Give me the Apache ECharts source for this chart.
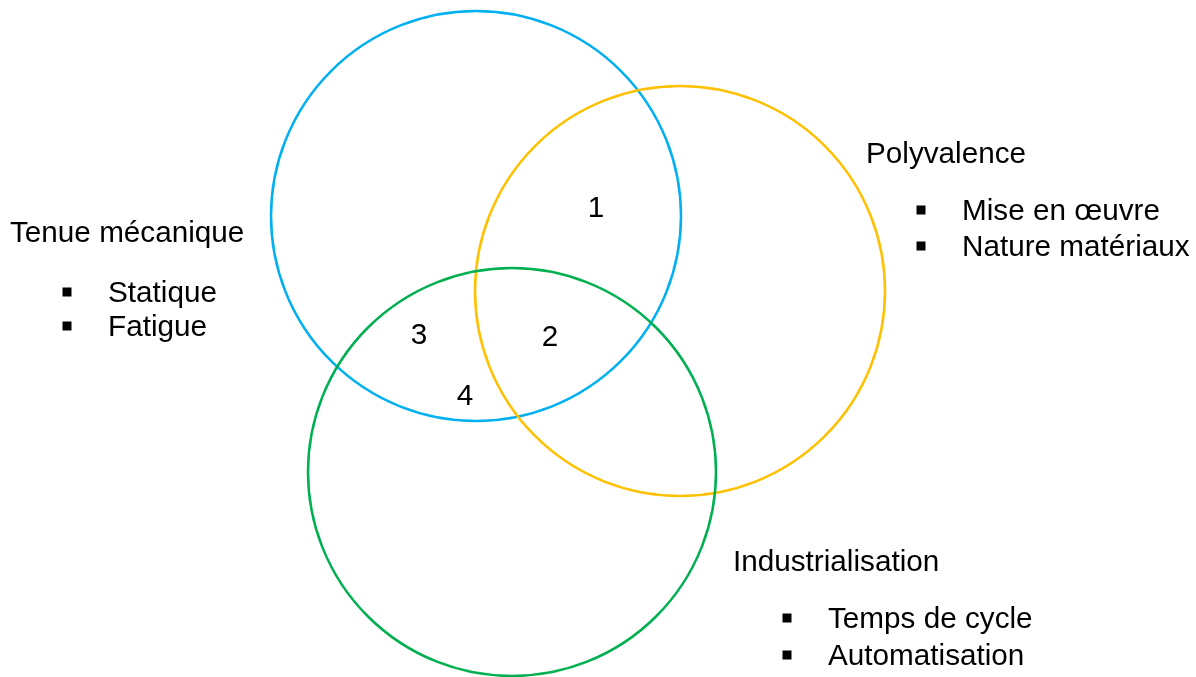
<!DOCTYPE html>
<html>
<head>
<meta charset="utf-8">
<script src="https://cdn.jsdelivr.net/npm/echarts@6/dist/echarts.min.js"></script>
<style>
  html, body { margin: 0; padding: 0; background: #fff; }
  #main { width: 1196px; height: 677px; }
</style>
</head>
<body>
<div id="main"></div>
<script>
// les trois cercles (coordonnees en pixels de la figure)
const circleNames = ['Tenue mécanique', 'Polyvalence', 'Industrialisation'];
const circleCenters = [[476, 216], [680, 291], [512, 472]];
const circleRadius = [205, 205, 204];

// numeros des zones d'intersection
const zoneLabels = ['1', '2', '3', '4'];
const zonePositions = [[596, 209], [550, 338], [419, 336], [465, 397]];

// titres et puces
const headingPositions = [[10, 234], [866, 155], [733, 563]];
const bulletItems = ['Statique', 'Fatigue', 'Mise en œuvre', 'Nature matériaux', 'Temps de cycle', 'Automatisation'];
const bulletPositions = [[108, 294], [108, 328], [962, 212], [962, 248], [828, 620], [828, 657]];

const colors = ['#00B0F0', '#FFC000', '#00B050'];
const font = "'Liberation Sans', Arial, sans-serif";

var chart = echarts.init(document.getElementById('main'));

var textLabel = {
  show: true,
  position: 'right',
  distance: 0,
  color: '#000',
  fontSize: 29.7,
  fontFamily: font,
  formatter: function (p) { return p.name; }
};

var option = {
  animation: false,
  grid: { left: 0, right: 0, top: 0, bottom: 0 },
  xAxis: { type: 'value', min: 0, max: 1196, show: false },
  yAxis: { type: 'value', min: 0, max: 677, inverse: true, show: false },
  series: [
    {
      type: 'scatter',
      symbol: 'circle',
      data: circleCenters.map(function (c, i) {
        return {
          value: c,
          symbolSize: circleRadius[i] * 2,
          itemStyle: { color: 'rgba(0,0,0,0)', borderColor: colors[i], borderWidth: 2.5, opacity: 1 }
        };
      }),
      silent: true
    },
    {
      type: 'scatter',
      symbolSize: 0,
      itemStyle: { opacity: 1 },
      data: circleNames.map(function (n, i) { return { name: n, value: headingPositions[i] }; }),
      label: textLabel
    },
    {
      type: 'scatter',
      symbolSize: 0,
      itemStyle: { opacity: 1 },
      data: bulletItems.map(function (n, i) { return { name: n, value: bulletPositions[i] }; }),
      label: textLabel
    },
    {
      // les puces carrees
      type: 'scatter',
      symbol: 'rect',
      symbolSize: 9,
      symbolOffset: [-41, -2],
      itemStyle: { color: '#000', opacity: 1 },
      data: bulletPositions
    },
    {
      type: 'scatter',
      symbolSize: 0,
      itemStyle: { opacity: 1 },
      data: zoneLabels.map(function (n, i) { return { name: n, value: zonePositions[i] }; }),
      label: {
        show: true,
        position: 'inside',
        color: '#000',
        fontSize: 29.7,
        fontFamily: font,
        formatter: function (p) { return p.name; }
      }
    }
  ]
};

chart.setOption(option);
</script>
</body>
</html>
